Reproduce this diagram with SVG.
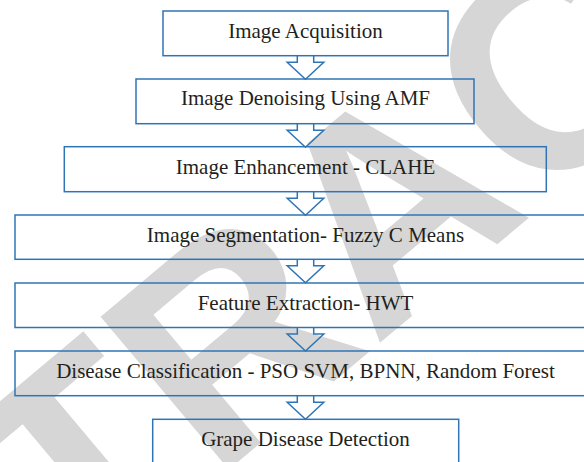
<svg xmlns="http://www.w3.org/2000/svg" width="584" height="462" viewBox="0 0 584 462">
<style>
.box{fill:none;stroke:#2f75b5;stroke-width:1.5}
.lbl{font-family:"Liberation Serif",serif;font-size:21px;fill:#231f20;text-anchor:middle}
.arr{fill:none;stroke:#2f75b5;stroke-width:1.5;stroke-linejoin:miter}
.wm{font-family:"Liberation Sans",Arial,sans-serif;font-weight:bold;font-size:290px;fill:#d6d6d6;text-anchor:middle}
</style>
<defs>
<path id="arrow" class="arr" d="M-8.2,0 V6.5 H-18.3 L0,23.5 L18.3,6.5 H8.2 V0"/>
</defs>
<rect width="584" height="462" fill="#ffffff"/>
<text class="wm" x="400" y="300" transform="rotate(-40 400 215)">RETRACTED</text>
<g id="connectors">
<use href="#arrow" x="305.5" y="55.7"/>
<use href="#arrow" x="305.5" y="123.7"/>
<use href="#arrow" x="305.5" y="191.7"/>
<use href="#arrow" x="305.5" y="259.3"/>
<use href="#arrow" x="305.5" y="327.5"/>
<use href="#arrow" x="305.5" y="395.8"/>
</g>
<g id="n1"><rect class="box" x="163" y="11" width="285" height="44.7"/><text class="lbl" x="305.5" y="38">Image Acquisition</text></g>
<g id="n2"><rect class="box" x="136" y="79" width="338" height="44.7"/><text class="lbl" x="305.5" y="105">Image Denoising Using AMF</text></g>
<g id="n3"><rect class="box" x="64.3" y="146.7" width="482" height="45"/><text class="lbl" x="305.5" y="174">Image Enhancement - CLAHE</text></g>
<g id="n4"><rect class="box" x="15" y="215" width="590" height="44.3"/><text class="lbl" x="305.5" y="242">Image Segmentation- Fuzzy C Means</text></g>
<g id="n5"><rect class="box" x="15" y="283" width="590" height="44.5"/><text class="lbl" x="305.5" y="310">Feature Extraction- HWT</text></g>
<g id="n6"><rect class="box" x="15" y="351" width="590" height="44.7"/><text class="lbl" x="305.5" y="378">Disease Classification - PSO SVM, BPNN, Random Forest</text></g>
<g id="n7"><rect class="box" x="152.7" y="419.3" width="306" height="60"/><text class="lbl" x="305.5" y="446">Grape Disease Detection</text></g>
</svg>
